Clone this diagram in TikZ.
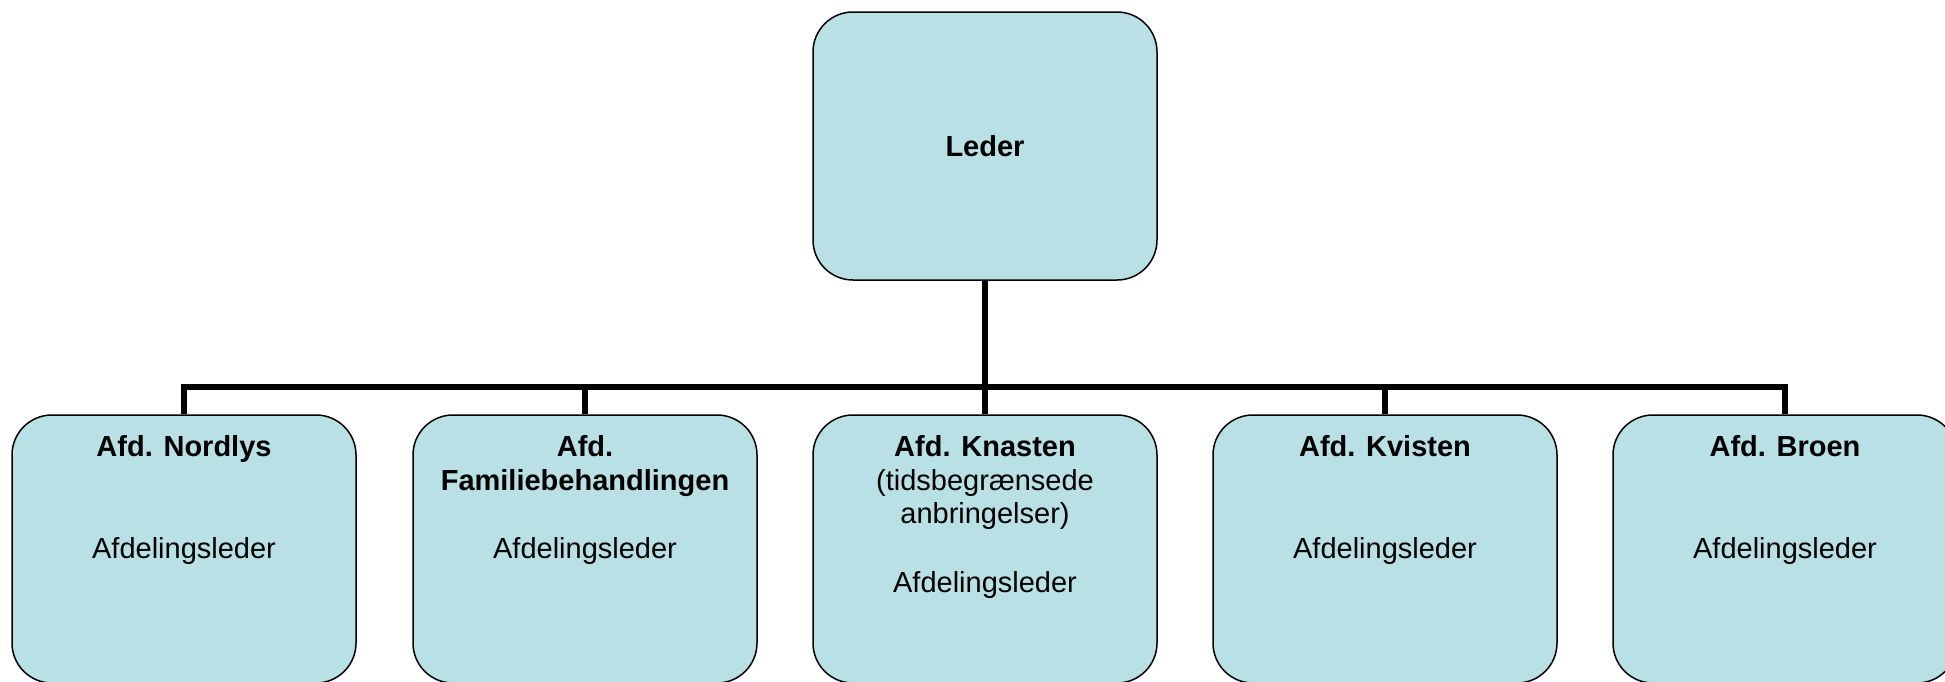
\documentclass[tikz,border=0pt]{standalone}
\usepackage{fontspec}
\setmainfont{Liberation Sans}
\usetikzlibrary{calc}
\definecolor{boksblaa}{RGB}{185,224,228}
\tikzset{
  boks/.style={draw=black, line width=0.75pt, fill=boksblaa, rounded corners=20pt,
    minimum width=172pt, minimum height=134pt, inner sep=0pt},
  linje/.style={line width=3pt},
  titel/.style={font=\fontsize{14.5}{16.6}\selectfont\bfseries, align=center, inner sep=0pt, anchor=north},
  rolle/.style={font=\fontsize{14.5}{16.6}\selectfont, align=center, inner sep=0pt, anchor=base}
}

\begin{document}
\begin{tikzpicture}[x=0.5pt,y=-0.5pt]
\useasboundingbox (0,0) rectangle (1945,681);
\clip (0,0) rectangle (1945,681);
% boksene
\node[boks, font=\fontsize{14.5}{16.6}\selectfont\bfseries] (leder) at (985,146) {Leder};
\node[boks] (nordlys) at (184,549) {};
\node[boks] (familie) at (585,549) {};
\node[boks] (knasten) at (985,549) {};
\node[boks] (kvisten) at (1385,549) {};
\node[boks] (broen) at (1785,549) {};
% forbindelser
\coordinate (bus) at (985,387);
\draw[linje] (leder.south) -- (bus);
\draw[linje] (nordlys.north) |- (bus -| broen.north) -- (broen.north);
\foreach \n in {familie,knasten,kvisten}
\draw[linje] (bus -| \n.north) -- (\n.north);
% tekster
\node[titel] (nordlys-t) at ([yshift=-10.6pt]nordlys.north) {Afd. Nordlys};
\node[titel] (familie-t) at ([yshift=-10.6pt]familie.north) {Afd.\\Familiebehandlingen};
\node[titel] (knasten-t) at ([yshift=-10.6pt]knasten.north) {Afd. Knasten\\\mdseries(tidsbegrænsede\\\mdseries anbringelser)};
\node[titel] (kvisten-t) at ([yshift=-10.6pt]kvisten.north) {Afd. Kvisten};
\node[titel] (broen-t) at ([yshift=-10.6pt]broen.north) {Afd. Broen};
\foreach \n in {nordlys,familie,kvisten,broen}
\node[rolle] (\n-r) at ([yshift=-72pt]\n.north) {Afdelingsleder};
\node[rolle] (knasten-r) at ([yshift=-89pt]knasten.north) {Afdelingsleder};
\end{tikzpicture}
\end{document}
